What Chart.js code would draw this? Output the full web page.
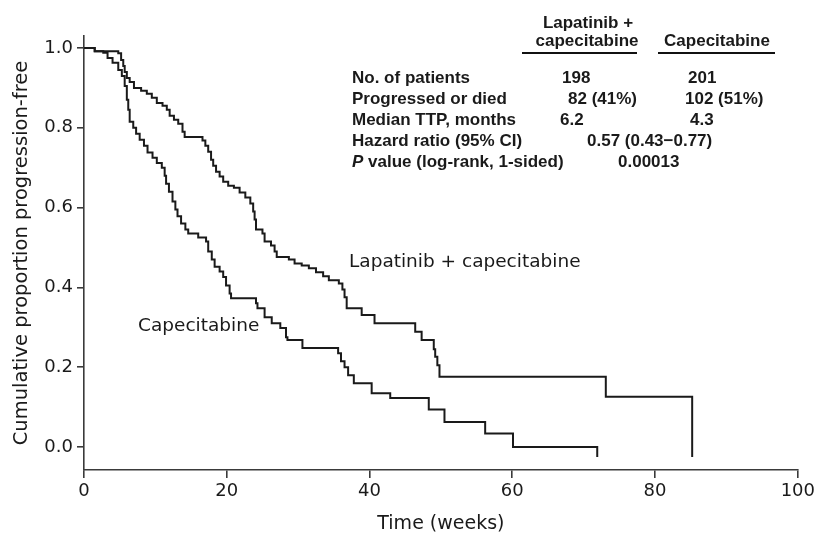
<!DOCTYPE html>
<html>
<head>
<meta charset="utf-8">
<script src="https://cdn.jsdelivr.net/npm/chart.js@4/dist/chart.umd.min.js"></script>
<style>
  html, body { margin: 0; padding: 0; background: #ffffff; }
  #wrap { position: relative; width: 818px; height: 539px; }
</style>
</head>
<body>
<div id="wrap"><canvas id="c" width="818" height="539"></canvas></div>
<script>
// ---- Data (time in weeks, proportion progression-free) ----
const lapTimes = [0, 1.5, 4.8, 5.2, 5.5, 5.7, 6.0, 6.4, 7.0, 8.0, 8.8, 9.5, 10.2, 11.0, 11.6, 12.0, 12.6, 13.2, 13.8, 14.1,
  16.6, 17.0, 17.4, 17.8, 18.1, 18.5, 19.0, 19.5, 20.2, 21.0, 21.8, 22.6, 23.3, 23.7, 23.9, 24.1, 25.0, 25.3, 26.2, 26.7,
  27.0, 28.7, 29.5, 30.5, 31.5, 32.5, 33.5, 34.3, 35.7, 36.2, 36.5, 36.8, 38.9, 40.7, 46.4, 47.3, 49.0, 49.2, 49.5, 49.8,
  73.1, 85.2];
const lapSurv = [1.0, 0.992, 0.987, 0.97, 0.955, 0.94, 0.925, 0.915, 0.90, 0.893, 0.885, 0.875, 0.862, 0.855, 0.845, 0.83, 0.82, 0.81, 0.79, 0.777,
  0.768, 0.755, 0.74, 0.72, 0.705, 0.69, 0.678, 0.665, 0.655, 0.65, 0.638, 0.625, 0.61, 0.59, 0.57, 0.545, 0.535, 0.515, 0.505, 0.49,
  0.476, 0.47, 0.46, 0.455, 0.448, 0.438, 0.428, 0.418, 0.41, 0.395, 0.375, 0.348, 0.331, 0.31, 0.289, 0.268, 0.245, 0.226, 0.205, 0.176,
  0.126, -0.025];

const capTimes = [0, 1.5, 2.7, 3.3, 4.0, 4.8, 5.3, 5.7, 6.0, 6.2, 6.4, 6.9, 7.3, 7.8, 8.4, 8.9, 9.6, 10.2, 10.9, 11.3, 11.5,
  11.9, 12.4, 12.8, 13.1, 13.6, 14.2, 14.6, 16.0, 17.1, 17.4, 17.9, 18.3, 19.0, 19.5, 19.9, 20.4, 20.6, 24.1, 24.3, 25.3,
  26.3, 27.5, 28.3, 28.5, 30.6, 35.6, 36.0, 36.5, 37.0, 37.8, 40.3, 42.9, 48.3, 50.5, 56.2, 60.1, 71.9];
const capSurv = [1.0, 0.992, 0.988, 0.975, 0.963, 0.945, 0.93, 0.905, 0.87, 0.845, 0.815, 0.80, 0.785, 0.77, 0.755, 0.738, 0.725, 0.712, 0.70, 0.68, 0.66,
  0.64, 0.615, 0.595, 0.578, 0.56, 0.545, 0.535, 0.525, 0.515, 0.49, 0.47, 0.452, 0.44, 0.426, 0.405, 0.385, 0.373, 0.36, 0.348, 0.325,
  0.31, 0.298, 0.275, 0.268, 0.248, 0.235, 0.215, 0.20, 0.18, 0.16, 0.135, 0.123, 0.094, 0.063, 0.034, 0.0, -0.025];

const seriesNames = ["Lapatinib + capecitabine", "Capecitabine"];
const xTickValues = [0, 20, 40, 60, 80, 100];
const yTickValues = [0, 0.2, 0.4, 0.6, 0.8, 1.0];

// Summary table (text)
const tableHeaders = [["Lapatinib +", "capecitabine"], ["Capecitabine"]];
const tableRowLabels = ["No. of patients", "Progressed or died", "Median TTP, months", "Hazard ratio (95% CI)", "P value (log-rank, 1-sided)"];
const tableLapValues = ["198", "82 (41%)", "6.2"];
const tableCapValues = ["201", "102 (51%)", "4.3"];
const tableHazard = "0.57 (0.43\u22120.77)";
const tablePValue = "0.00013";

function toPoints(ts, ss) { return ts.map((t, i) => ({ x: t, y: ss[i] })); }

const ink = '#1a1a1a';
const axisInk = '#3a3a3a';

const annotationPlugin = {
  id: 'annotations',
  afterDraw(chart) {
    const ctx = chart.ctx;
    ctx.save();
    ctx.fillStyle = ink;
    ctx.textBaseline = 'alphabetic';
    // curve labels
    ctx.font = '18.5px "DejaVu Sans"';
    ctx.textAlign = 'left';
    ctx.fillText(seriesNames[0], 349, 267);
    ctx.fillText(seriesNames[1], 138, 331);

    // table
    const bold = 'bold 17px "Liberation Sans"';
    ctx.font = bold;
    ctx.textAlign = 'center';
    ctx.fillText(tableHeaders[0][0], 588, 28);
    ctx.fillText(tableHeaders[0][1], 587, 46);
    ctx.fillText(tableHeaders[1][0], 717, 46);
    ctx.strokeStyle = '#111';
    ctx.lineWidth = 2;
    ctx.beginPath();
    ctx.moveTo(522, 53); ctx.lineTo(637, 53);
    ctx.moveTo(658, 53); ctx.lineTo(775, 53);
    ctx.stroke();

    const rowY = [82.5, 103.5, 124.5, 145.5, 166.5];
    ctx.textAlign = 'left';
    for (let i = 0; i < 4; i++) ctx.fillText(tableRowLabels[i], 352, rowY[i]);
    // italic P
    ctx.font = 'italic bold 17px "Liberation Sans"';
    ctx.fillText('P', 352, rowY[4]);
    const pw = ctx.measureText('P').width;
    ctx.font = bold;
    ctx.fillText(tableRowLabels[4].slice(1), 352 + pw, rowY[4]);

    const lapX = [562, 568, 560];
    const capX = [688, 685, 690];
    for (let i = 0; i < 3; i++) {
      ctx.fillText(tableLapValues[i], lapX[i], rowY[i]);
      ctx.fillText(tableCapValues[i], capX[i], rowY[i]);
    }
    ctx.fillText(tableHazard, 587, rowY[3]);
    ctx.fillText(tablePValue, 618, rowY[4]);
    ctx.restore();
  }
};

new Chart(document.getElementById('c'), {
  type: 'line',
  data: {
    datasets: [
      { label: seriesNames[0], data: toPoints(lapTimes, lapSurv), stepped: 'before', borderColor: ink, borderWidth: 2, pointRadius: 0, fill: false },
      { label: seriesNames[1], data: toPoints(capTimes, capSurv), stepped: 'before', borderColor: ink, borderWidth: 2, pointRadius: 0, fill: false }
    ]
  },
  options: {
    responsive: false,
    animation: false,
    devicePixelRatio: 1,
    layout: { padding: { top: 36, right: 17, bottom: 0, left: 0 } },
    plugins: { legend: { display: false }, tooltip: { enabled: false }, title: { display: false } },
    scales: {
      x: {
        type: 'linear',
        min: 0, max: 100,
        afterBuildTicks: (s) => { s.ticks = xTickValues.map(v => ({ value: v })); },
        afterFit: (s) => { s.height = 69; },
        border: { display: true, color: axisInk, width: 1.6 },
        grid: { display: true, drawOnChartArea: false, drawTicks: true, tickLength: 8, color: axisInk, tickColor: axisInk, lineWidth: 1.6 },
        ticks: { color: ink, padding: 3, maxRotation: 0, autoSkip: false, font: { family: 'DejaVu Sans', size: 18 } },
        title: { display: true, text: 'Time (weeks)', color: ink, padding: { top: 0, bottom: 4 }, font: { family: 'DejaVu Sans', size: 19 } }
      },
      y: {
        type: 'linear',
        min: -0.0576, max: 1.030,
        afterBuildTicks: (s) => { s.ticks = yTickValues.map(v => ({ value: v })); },
        afterFit: (s) => { s.width = 84; },
        border: { display: true, color: axisInk, width: 1.6 },
        grid: { display: true, drawOnChartArea: false, drawTicks: true, tickLength: 7, color: axisInk, tickColor: axisInk, lineWidth: 1.6 },
        ticks: { color: ink, padding: 4, autoSkip: false, font: { family: 'DejaVu Sans', size: 18 }, callback: (v) => Number(v).toFixed(1) },
        title: { display: true, text: 'Cumulative proportion progression-free', color: ink, padding: { top: 10, bottom: 0 }, font: { family: 'DejaVu Sans', size: 19.5 } }
      }
    }
  },
  plugins: [annotationPlugin]
});
</script>
</body>
</html>
